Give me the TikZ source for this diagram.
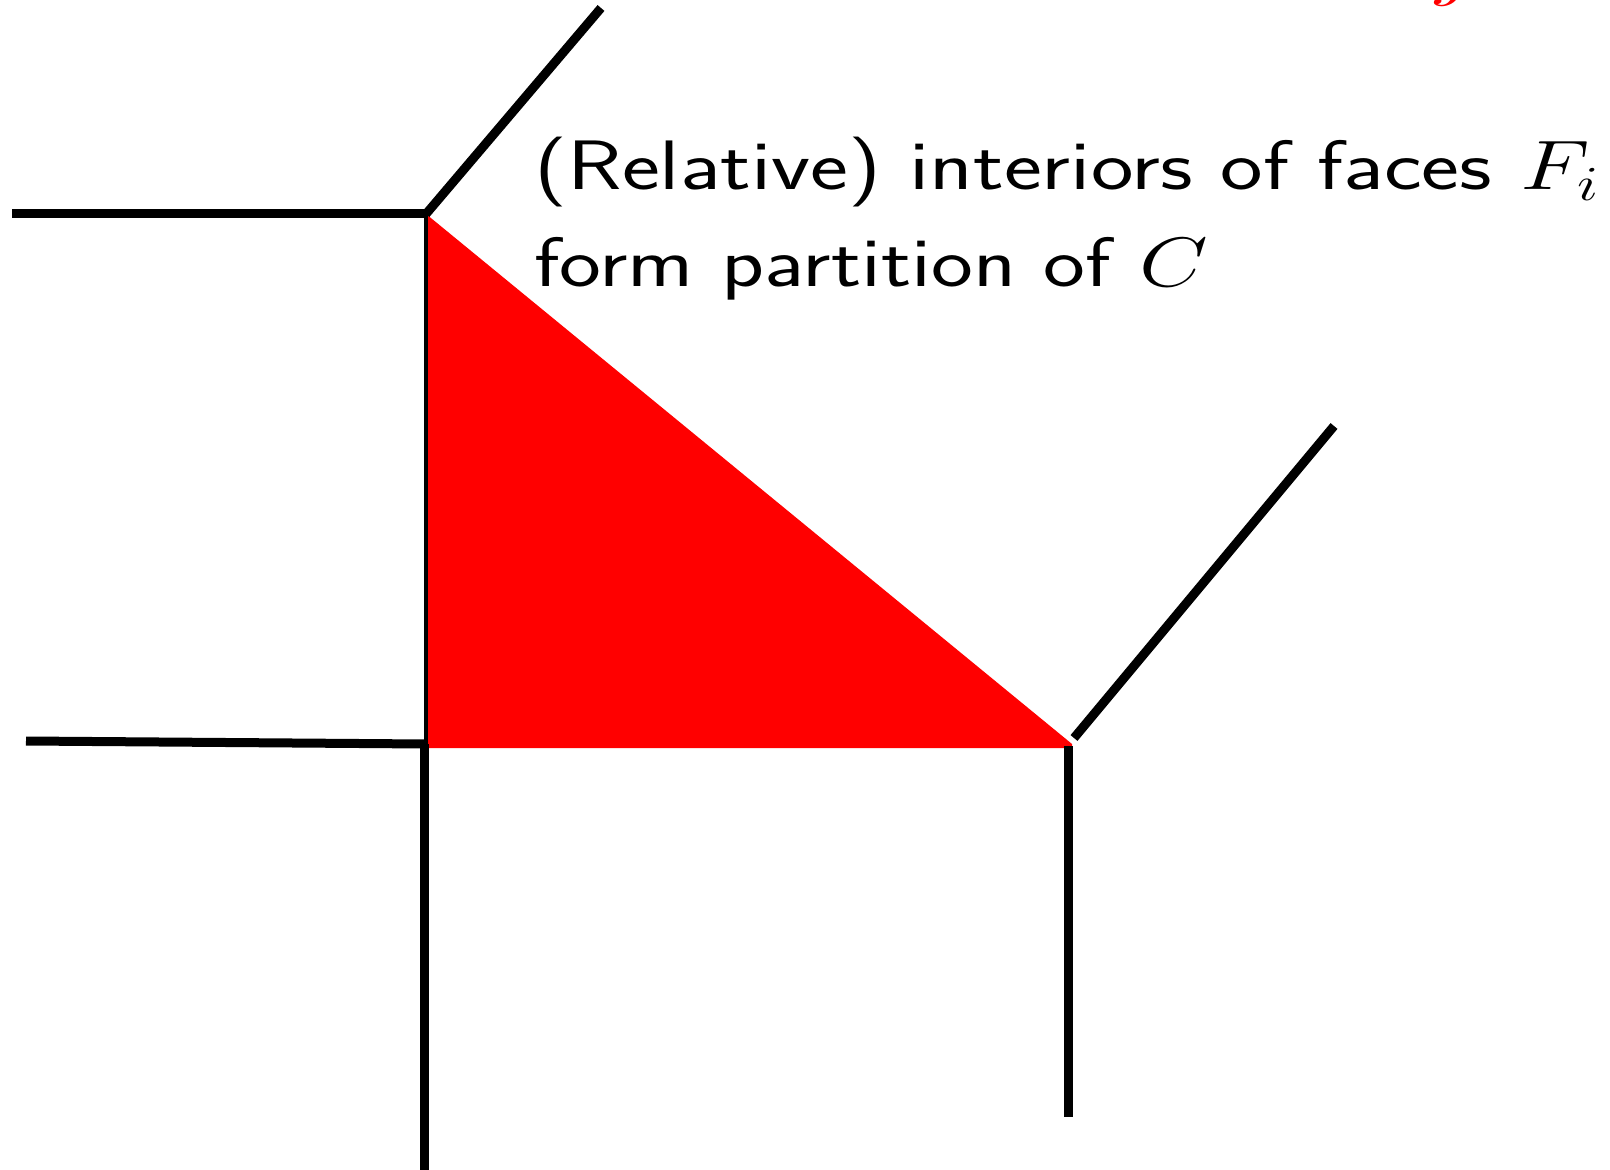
\RequirePackage{fix-cm}
\documentclass[tikz,border=0pt]{standalone}
\begin{document}
\begin{tikzpicture}[x=0.5pt,y=-0.5pt,
  edge/.style={line width=4.5pt,black},
  thinedge/.style={line width=1.6pt,black},
  lbl/.style={inner sep=0pt,anchor=base west,font=\sffamily\fontsize{35}{48}\selectfont}]
\useasboundingbox (0,0) rectangle (1610,1170);
\fill[white] (0,0) rectangle (1610,1170);
% vertices
\coordinate (A) at (426,214);
\coordinate (B) at (426,744);
\coordinate (Cv) at (1072,744);
% outer ends
\coordinate (Aleft) at (12,214);
\coordinate (Aup) at (601,8);
\coordinate (Bleft) at (26,741);
\coordinate (Bdown) at (424,1172);
\coordinate (Cdown) at (1068,1117);
\coordinate (Cup) at (1334,426);
% red face
\fill[red] (A) -- (Cv) -- (1072,748) -- (428,748) -- cycle;
% edges
\draw[edge] (Aleft) -- (A);
\draw[edge] (A) -- (Aup);
\draw[thinedge] (A) -- (B);
\draw[edge] (Bleft) -- (B);
\draw[edge] (424,744) -- (Bdown);
\draw[edge] (1068,746) -- (Cdown);
\draw[edge] (1074,738) -- (Cup);
% labels
\node[lbl] (t1) at (534,190) {\scalebox{1.29}[1]{(Relative) interiors of faces $F_i$}};
\node[lbl] (t2) at (534,287) {\scalebox{1.27}[1]{form partition of $C$}};
\node[red,inner sep=0pt,anchor=base,font=\fontsize{35}{48}\selectfont] (rj) at (1456,-7) {\scalebox{1.3}[1]{$j$}};
\end{tikzpicture}
\end{document}
